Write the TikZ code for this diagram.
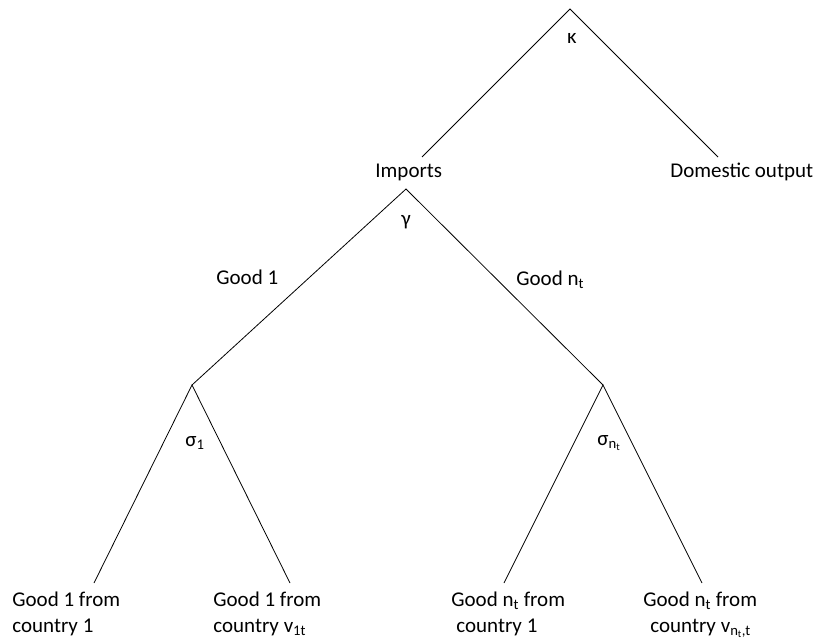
\documentclass[tikz,border=0pt]{standalone}
\usepackage{fontspec}
\setmainfont{Carlito}
\usetikzlibrary{positioning}

\begin{document}
\begin{tikzpicture}[x=1pt,y=-1pt,line width=0.8pt,
  lbl/.style={font=\fontsize{21}{26}\selectfont,inner sep=0pt,anchor=base west,align=left}]
\useasboundingbox (0,0) rectangle (819,640);
% branch points
\coordinate (K) at (570,9);
\coordinate (G) at (406,189);
\coordinate (S1) at (192,385);
\coordinate (SN) at (603,385);
% free ends of the branches
\coordinate (Ki) at (422,157);
\coordinate (Kd) at (718,157);
\coordinate (S1a) at (94,583);
\coordinate (S1b) at (290,583);
\coordinate (SNa) at (504,583);
\coordinate (SNb) at (702,583);
% labels
\node[lbl] (imp) at (375,177) {Imports};
\node[lbl] (dom) at (670,177) {Domestic output};
\node[lbl,anchor=center] (kappa) at (572,38) {κ};
\node[lbl,anchor=center] (gamma) at (406,222) {γ};
\node[lbl] (g1) at (216,284) {Good 1};
\node[lbl] (gn) at (516,285) {Good n\textsubscript{t}};
\node[lbl] (sig1) at (185,446) {σ\textsubscript{1}};
\node[lbl] (sign) at (597,445) {σ\textsubscript{n\textsubscript{t}}};
% bottom labels (base anchor sits on the last line)
\node[lbl] (c11) at (12,632) {Good 1 from\\country 1};
\node[lbl] (c1v) at (213,632) {Good 1 from\\country v\textsubscript{1t}};
\node[lbl] (cn1) at (451,632) {Good n\textsubscript{t} from\\\hspace*{5pt}country 1};
\node[lbl] (cnv) at (643,632) {Good n\textsubscript{t} from\\\hspace*{7pt}country v\textsubscript{n\textsubscript{t},t}};
% tree
\draw (Ki) -- (K) -- (Kd);
\draw (S1) -- (G) -- (SN);
\draw (S1a) -- (S1) -- (S1b);
\draw (SNa) -- (SN) -- (SNb);
\end{tikzpicture}
\end{document}
